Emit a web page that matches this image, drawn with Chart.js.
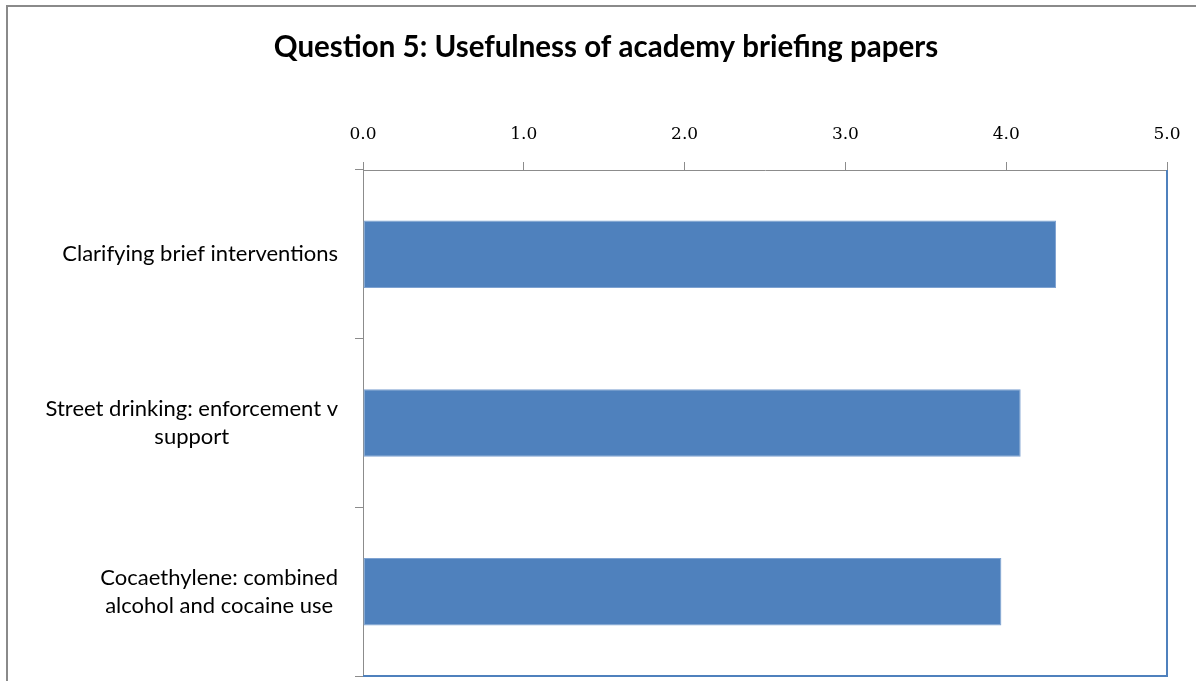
<!DOCTYPE html>
<html>
<head>
<meta charset="utf-8">
<title>Question 5: Usefulness of academy briefing papers</title>
<script src="https://cdn.jsdelivr.net/npm/chart.js@4"></script>
<style>
  html, body { margin: 0; padding: 0; background: #fff; overflow: hidden; }
  #wrap { position: relative; width: 1196px; height: 681px; }
</style>
</head>
<body>
<div id="wrap"><canvas id="q5Chart" width="1196" height="681"></canvas></div>
<script>
// Question 5 answers (mean score, 0-5)
const categories = [
  ['Clarifying brief interventions'],
  ['Street drinking: enforcement v', 'support'],
  ['Cocaethylene: combined', 'alcohol and cocaine use']
];
const scores = [4.31, 4.09, 3.97];
const xTicks = [0, 1, 2, 3, 4, 5];

const chartTitle = 'Question 5: Usefulness of academy briefing papers';
const labelFont = '22px Lato, "Open Sans", sans-serif';
const titleSize = 29.5;
const titleTop = 30;
const titleBottom = titleTop + titleSize * 1.2;

// outer frame + blue plot border on right/bottom
const framePlugin = {
  id: 'frame',
  beforeDraw(chart) {
    const ctx = chart.ctx;
    ctx.save();
    ctx.strokeStyle = '#8a8a8a';
    ctx.lineWidth = 2;
    ctx.beginPath();
    ctx.moveTo(7, 700);
    ctx.lineTo(7, 6);
    ctx.lineTo(1196, 6);
    ctx.stroke();
    ctx.restore();
  },
  afterDraw(chart) {
    const a = chart.chartArea;
    const ctx = chart.ctx;
    ctx.save();
    ctx.strokeStyle = '#4f81bd';
    ctx.lineWidth = 2;
    ctx.beginPath();
    ctx.moveTo(a.left, a.bottom);
    ctx.lineTo(a.right, a.bottom);
    ctx.lineTo(a.right, a.top);
    ctx.stroke();
    ctx.restore();
  }
};

// category labels: block right-aligned to the axis, lines centred inside
const catLabelPlugin = {
  id: 'catLabels',
  afterDraw(chart) {
    const y = chart.scales.y;
    const ctx = chart.ctx;
    ctx.save();
    ctx.font = labelFont;
    ctx.fillStyle = '#000';
    ctx.textAlign = 'center';
    ctx.textBaseline = 'middle';
    const lineH = 28;
    categories.forEach((lines, i) => {
      const cy = y.getPixelForTick(i);
      const w = Math.max(...lines.map(l => ctx.measureText(l).width));
      const cx = chart.chartArea.left - 25 - w / 2;
      const y0 = cy - (lines.length - 1) * lineH / 2;
      lines.forEach((l, j) => ctx.fillText(l, cx, y0 + j * lineH));
    });
    ctx.restore();
  }
};

new Chart(document.getElementById('q5Chart').getContext('2d'), {
  type: 'bar',
  data: {
    labels: categories,
    datasets: [{
      data: scores,
      backgroundColor: '#4f81bd',
      borderColor: '#7ea2d1',
      borderWidth: 1,
      borderSkipped: false,
      categoryPercentage: 1,
      barPercentage: 0.4
    }]
  },
  options: {
    indexAxis: 'y',
    responsive: false,
    animation: false,
    layout: { padding: { left: 45, right: 29, top: 0, bottom: 5 } },
    plugins: {
      legend: { display: false },
      tooltip: { enabled: false },
      title: {
        display: true,
        text: chartTitle,
        color: '#000',
        font: { family: 'Lato, "Open Sans", sans-serif', size: titleSize, weight: 'bold', lineHeight: 1.2 },
        padding: { top: titleTop, bottom: 0 }
      }
    },
    scales: {
      x: {
        position: 'top',
        min: 0,
        max: 5,
        afterBuildTicks: s => { s.ticks = xTicks.map(v => ({ value: v })); },
        afterFit: s => {
          s.height = 170 - titleBottom;
          s.paddingLeft = 0;
          s.paddingRight = 0;
        },
        grid: { drawOnChartArea: false, drawTicks: true, tickLength: 8, color: '#8c8c8c' },
        border: { color: '#8c8c8c', width: 1 },
        ticks: {
          color: '#000',
          padding: 17,
          font: { family: '"DejaVu Serif", serif', size: 17 },
          callback: v => Number(v).toFixed(1)
        }
      },
      y: {
        afterFit: s => { s.width = 363 - 45; },
        grid: { drawOnChartArea: false, drawTicks: true, tickLength: 8, color: '#8c8c8c', offset: true },
        border: { color: '#8c8c8c', width: 1 },
        ticks: { display: false }
      }
    }
  },
  plugins: [framePlugin, catLabelPlugin]
});
</script>
</body>
</html>
